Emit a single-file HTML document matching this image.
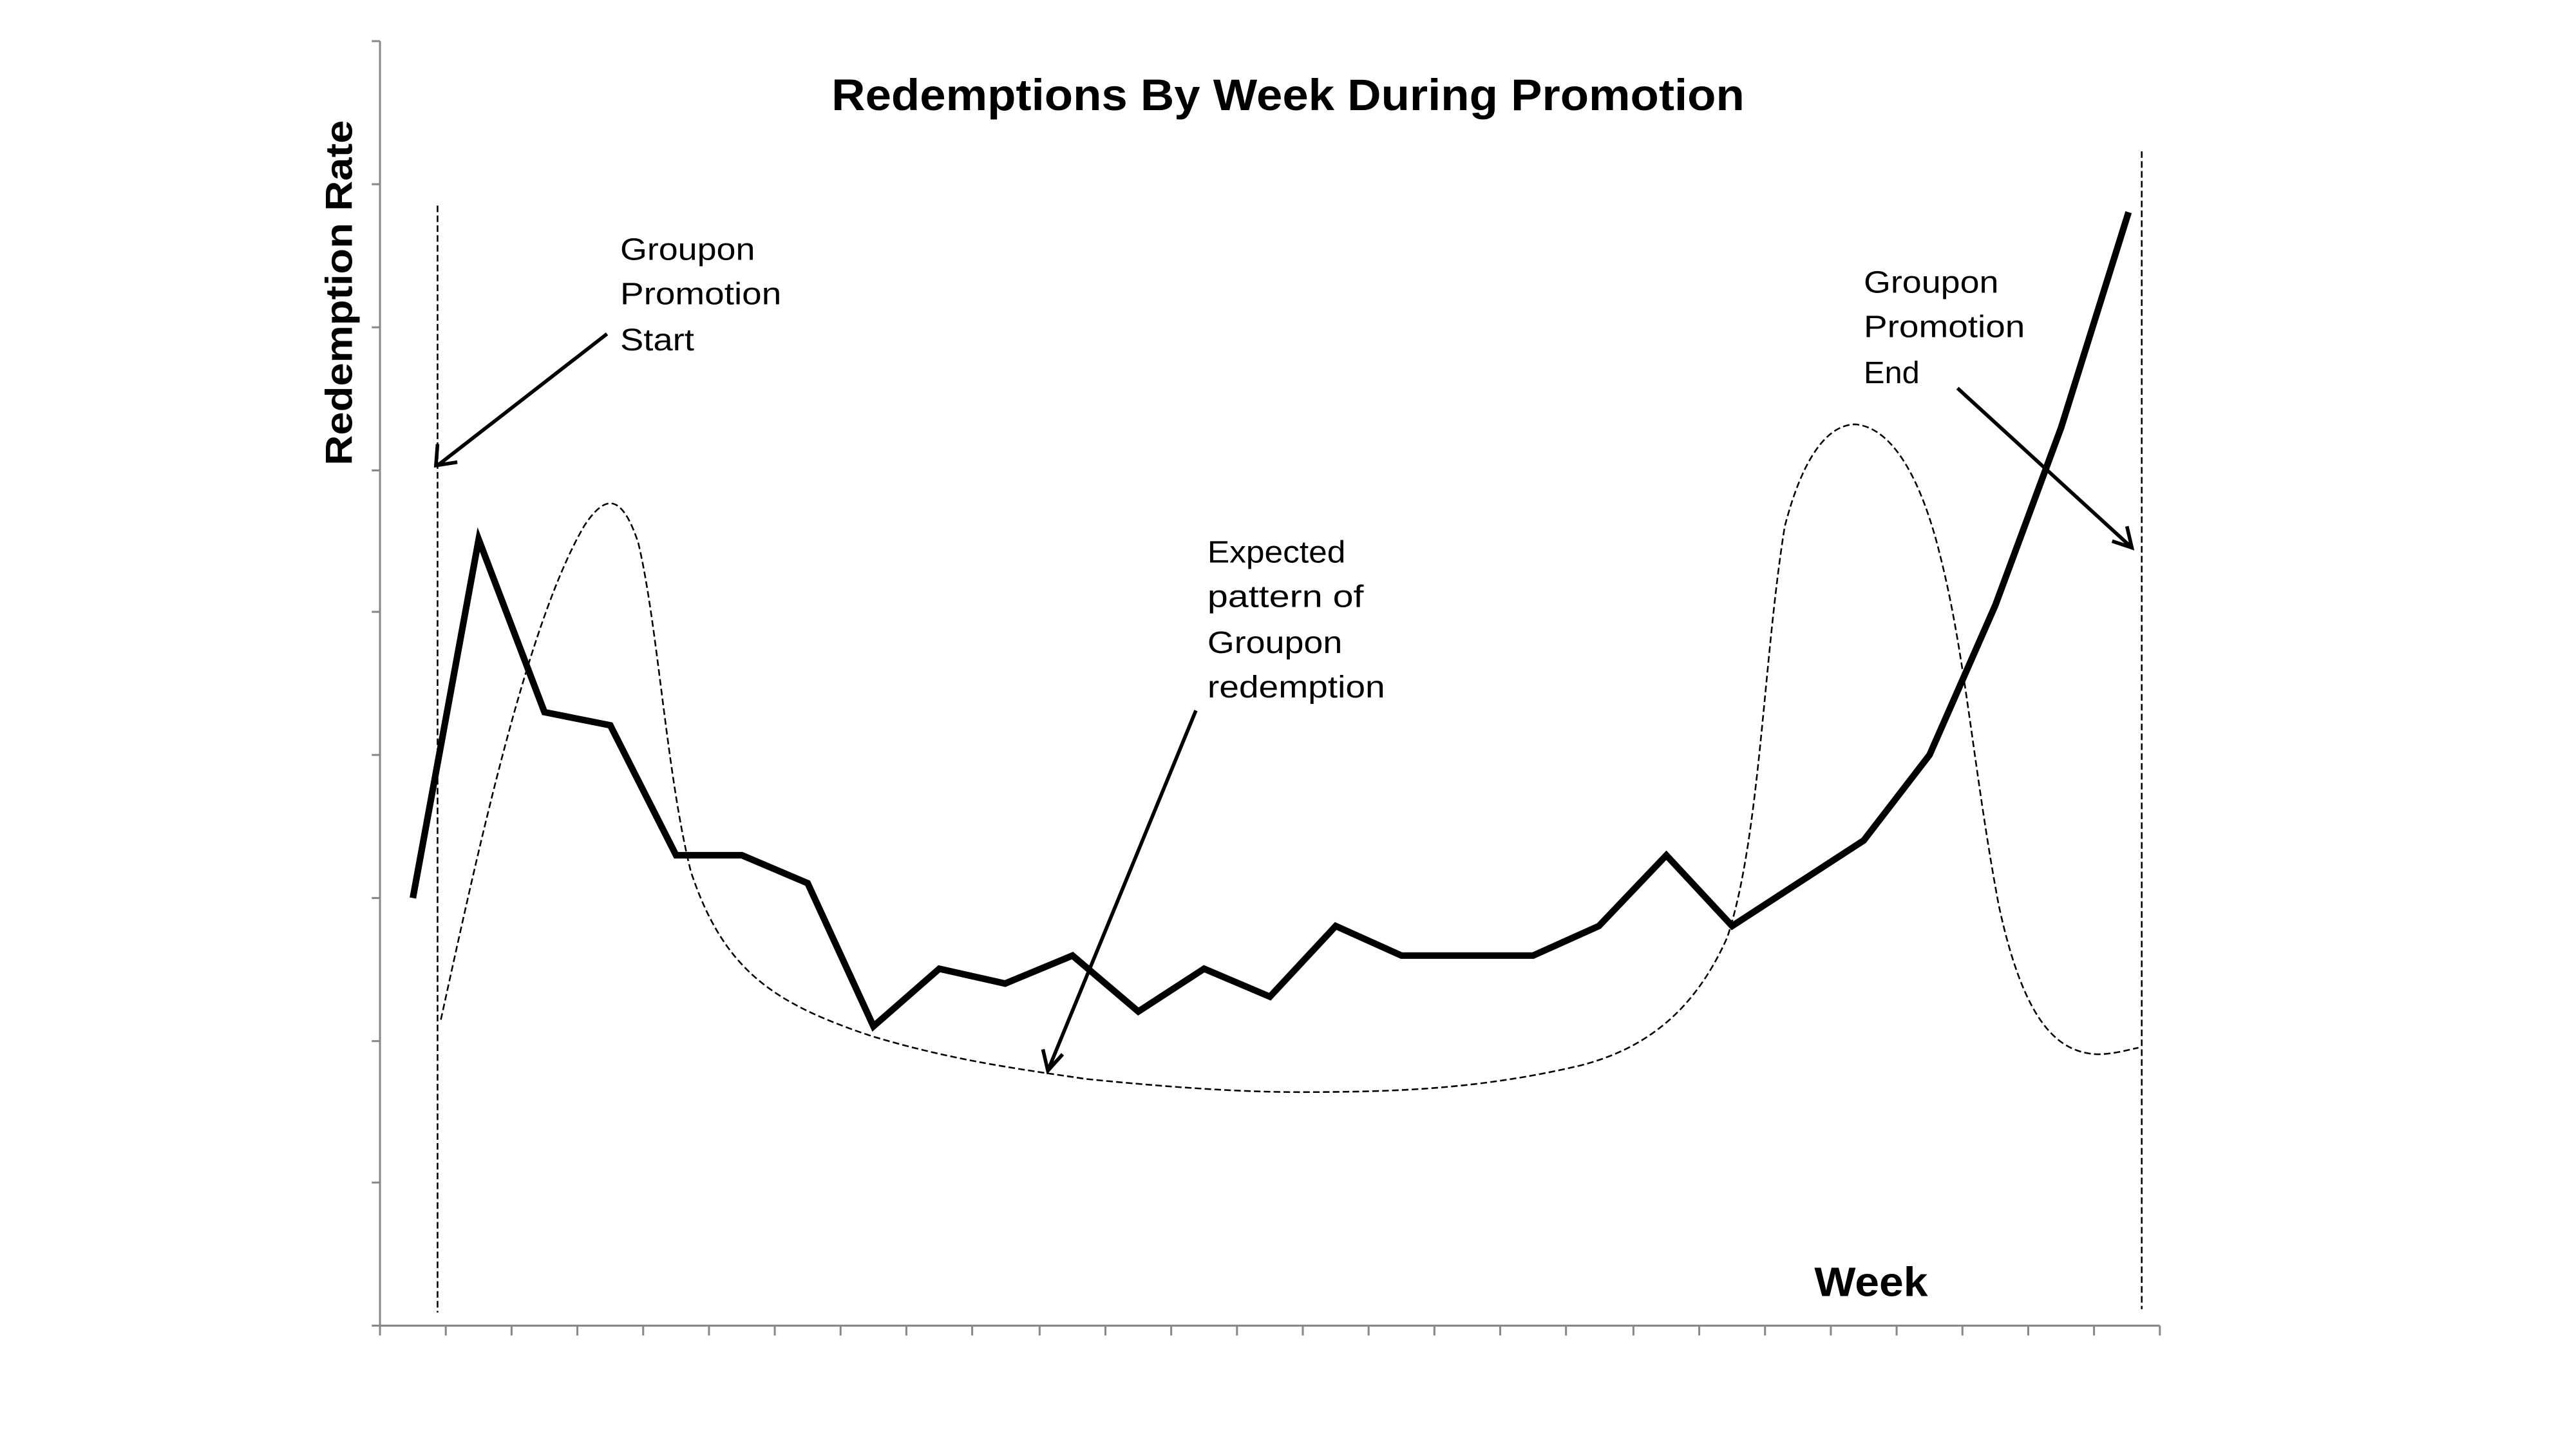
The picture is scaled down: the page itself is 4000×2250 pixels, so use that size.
<!DOCTYPE html>
<html><head><meta charset="utf-8"><style>html,body{margin:0;padding:0;background:#fff}svg{display:block}</style></head>
<body>
<svg width="4000" height="2250" viewBox="0 0 1566 881" preserveAspectRatio="none" xmlns="http://www.w3.org/2000/svg" font-family="Liberation Sans, sans-serif">
<rect width="1566" height="881" fill="#fff"/>
<g stroke="#888" stroke-width="1.2" fill="none">
<line x1="231" y1="25" x2="231" y2="806"/>
<line x1="226" y1="806" x2="1313" y2="806"/>
<path d="M226 112h5M226 199h5M226 286h5M226 372h5M226 459h5M226 546h5M226 633h5M226 719h5M226 25h5"/>
<path d="M231 806v6M271 806v6M311 806v6M351 806v6M391 806v6M431 806v6M471 806v6M511 806v6M551 806v6M591 806v6M632 806v6M672 806v6M712 806v6M752 806v6M792 806v6M832 806v6M872 806v6M912 806v6M952 806v6M993 806v6M1033 806v6M1073 806v6M1113 806v6M1153 806v6M1193 806v6M1233 806v6M1273 806v6M1313 806v6"/>
</g>
<g stroke="#000" stroke-width="1" stroke-dasharray="4,2" fill="none">
<line x1="266" y1="125" x2="266" y2="798"/>
<line x1="1302" y1="92" x2="1302" y2="796"/>
<path d="M268 620 C290 520 320 380 355 320 C368 300 378 300 388 330 C400 380 405 470 420 530 C440 590 470 610 530 630 C580 645 620 650 660 656 C720 662 760 664 790 664 C850 664 900 662 960 648 C1000 638 1030 615 1050 570 C1070 510 1072 400 1085 320 C1098 270 1115 258 1128 258 C1150 260 1168 290 1180 340 C1195 400 1200 470 1215 550 C1230 620 1250 640 1275 641 C1285 641 1295 638 1300 637"/>
</g>
<polyline fill="none" stroke="#000" stroke-width="4" stroke-linejoin="miter" points="251,546 291,328 331,433 371,441 411,520 451,520 491,537 531,624 571,589 611,598 652,581 692,615 732,589 772,606 812,563 852,581 892,581 932,581 972,563 1013,520 1053,563 1093,537 1133,511 1173,459 1213,368 1253,260 1294,129"/>
<g stroke="#000" stroke-width="2.2" fill="none">
<line x1="369" y1="203" x2="266" y2="283"/><path d="M266 270 L265 283 L278 281"/>
<line x1="727" y1="432" x2="637" y2="651"/><path d="M634 638 L637 651 L646 641"/>
<line x1="1190" y1="236" x2="1296" y2="333"/><path d="M1284 329 L1296 333 L1293 320"/>
</g>
<text x="783" y="67" text-anchor="middle" font-weight="bold" font-size="27" textLength="555" lengthAdjust="spacingAndGlyphs">Redemptions By Week During Promotion</text>
<text transform="translate(214,178) rotate(-90)" text-anchor="middle" font-weight="bold" font-size="23" textLength="210" lengthAdjust="spacingAndGlyphs">Redemption Rate</text>
<text x="1103" y="788" font-weight="bold" font-size="25" textLength="69" lengthAdjust="spacingAndGlyphs">Week</text>
<g font-size="19">
<text x="377" y="158" textLength="82" lengthAdjust="spacingAndGlyphs">Groupon</text>
<text x="377" y="185" textLength="98" lengthAdjust="spacingAndGlyphs">Promotion</text>
<text x="377" y="213" textLength="45" lengthAdjust="spacingAndGlyphs">Start</text>
<text x="1133" y="178" textLength="82" lengthAdjust="spacingAndGlyphs">Groupon</text>
<text x="1133" y="205" textLength="98" lengthAdjust="spacingAndGlyphs">Promotion</text>
<text x="1133" y="233" textLength="34" lengthAdjust="spacingAndGlyphs">End</text>
<text x="734" y="342" textLength="84" lengthAdjust="spacingAndGlyphs">Expected</text>
<text x="734" y="369" textLength="95" lengthAdjust="spacingAndGlyphs">pattern of</text>
<text x="734" y="397" textLength="82" lengthAdjust="spacingAndGlyphs">Groupon</text>
<text x="734" y="424" textLength="108" lengthAdjust="spacingAndGlyphs">redemption</text>
</g>
</svg>
</body></html>
